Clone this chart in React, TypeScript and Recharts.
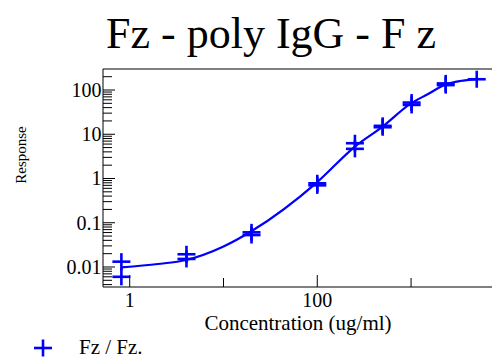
import React from 'react';
import { ComposedChart, Line, Scatter, XAxis, YAxis, ReferenceLine } from 'recharts';

const FONT = '"Liberation Serif", "Times New Roman", Times, serif';
const BLUE = '#0000ff';

const titleText = 'Fz - poly IgG - F z';
const xLabelText = 'Concentration (ug/ml)';
const yLabelText = 'Response';
const legendText = 'Fz / Fz.';

// measured replicate points
const pointX = [0.815, 0.815, 4.03, 4.03, 19.9, 19.9, 100, 100, 252, 252, 498, 498, 1014, 1014, 2342, 2342, 5015];
const pointY = [0.0132, 0.006, 0.0194, 0.0152, 0.0607, 0.0527, 0.78, 0.7, 6.27, 4.68, 15.5, 14.4, 52, 46, 141, 129, 175];

// fitted curve
const curveX = [0.815, 2, 4, 10, 20, 100, 252, 498, 1014, 1500, 2342, 3330, 5015];
const curveY = [0.0098, 0.0117, 0.0144, 0.029, 0.065, 0.83, 5.27, 14.9, 51, 80, 134, 160, 174];

const xTicks = [1, 10, 100, 1000];
const xLabeledTicks = [1, 100];
const yMajorTicks = [0.01, 0.1, 1, 10, 100];
const yDecades = [0.001, 0.01, 0.1, 1, 10, 100];
const yMinorMultipliers = [2, 3, 4, 5, 6, 7, 8, 9];

const X_DOMAIN: [number, number] = [0.519, 7295];
const Y_DOMAIN: [number, number] = [0.00353, 298.4];

const points = pointX.map((x, i) => ({ x, y: pointY[i] }));
const curve = curveX.map((x, i) => ({ x, y: curveY[i] }));

const yMinorTicks: number[] = [];
yDecades.forEach((d) =>
  yMinorMultipliers.forEach((m) => {
    const v = +(m * d).toPrecision(3);
    if (v > Y_DOMAIN[0] && v < Y_DOMAIN[1]) yMinorTicks.push(v);
  })
);
const yTicks = [...yMajorTicks, ...yMinorTicks].sort((a, b) => a - b);

const XTick = (props: any) => {
  const { x, y, payload } = props;
  const v = payload.value;
  const labeled = xLabeledTicks.includes(v);
  return (
    <g>
      <line x1={x} x2={x} y1={y} y2={y - (labeled ? 12 : 9)} stroke="#000" strokeWidth={1} />
      {labeled && (
        <text x={x} y={y + 19.5} textAnchor="middle" fontSize={20} fontFamily={FONT} fill="#000">
          {String(v)}
        </text>
      )}
    </g>
  );
};

const YTick = (props: any) => {
  const { x, y, payload } = props;
  const v = payload.value;
  const major = yMajorTicks.includes(v);
  return (
    <g>
      <line x1={x} x2={x + (major ? 12 : 9)} y1={y} y2={y} stroke="#000" strokeWidth={1} />
      {major && (
        <text x={x - 1.5} y={y + 7} textAnchor="end" fontSize={20} fontFamily={FONT} fill="#000">
          {String(v)}
        </text>
      )}
    </g>
  );
};

const PlusShape = (props: any) => {
  const { cx, cy } = props;
  if (cx == null || cy == null) return <g />;
  return (
    <g>
      <line x1={cx - 9} x2={cx + 9} y1={cy} y2={cy} stroke={BLUE} strokeWidth={2.6} />
      <line x1={cx} x2={cx} y1={cy - 8.5} y2={cy + 8.5} stroke={BLUE} strokeWidth={2.6} />
    </g>
  );
};

export default function App() {
  return (
    <div style={{ position: 'absolute', left: 0, top: 0, width: 492, height: 358, background: '#fff' }}>
      <ComposedChart
        width={492}
        height={358}
        margin={{ top: 69, right: 0, bottom: 0, left: 0 }}
        style={{ position: 'absolute', left: 0, top: 0 }}
      >
        <XAxis
          dataKey="x"
          type="number"
          scale="log"
          domain={X_DOMAIN}
          allowDataOverflow
          ticks={xTicks}
          interval={0}
          tick={<XTick />}
          tickLine={false}
          tickSize={0}
          tickMargin={0}
          height={71}
          axisLine={{ stroke: '#000', strokeWidth: 1 }}
        />
        <YAxis
          dataKey="y"
          type="number"
          scale="log"
          domain={Y_DOMAIN}
          allowDataOverflow
          ticks={yTicks}
          interval={0}
          tick={<YTick />}
          tickLine={false}
          tickSize={0}
          tickMargin={0}
          width={103}
          axisLine={{ stroke: '#000', strokeWidth: 1 }}
        />
        <ReferenceLine y={Y_DOMAIN[1]} stroke="#000" strokeWidth={1} ifOverflow="extendDomain" />
        <Line
          data={curve}
          dataKey="y"
          type="monotone"
          stroke={BLUE}
          strokeWidth={2.2}
          dot={false}
          activeDot={false}
          isAnimationActive={false}
        />
        <Scatter data={points} dataKey="y" shape={<PlusShape />} isAnimationActive={false} />
      </ComposedChart>
      <svg
        width={492}
        height={358}
        style={{ position: 'absolute', left: 0, top: 0, pointerEvents: 'none' }}
      >
        <text x={271} y={48} textAnchor="middle" fontSize={44} fontFamily={FONT} fill="#000">
          {titleText}
        </text>
        <text
          x={0}
          y={0}
          transform="translate(26,155) rotate(-90)"
          textAnchor="middle"
          fontSize={15}
          fontFamily={FONT}
          fill="#000"
        >
          {yLabelText}
        </text>
        <text x={298} y={330} textAnchor="middle" fontSize={21} fontFamily={FONT} fill="#000">
          {xLabelText}
        </text>
        <line x1={34} x2={52} y1={348} y2={348} stroke={BLUE} strokeWidth={2.6} />
        <line x1={43} x2={43} y1={339.5} y2={356.5} stroke={BLUE} strokeWidth={2.6} />
        <text x={79} y={354} fontSize={21} fontFamily={FONT} fill="#000">
          {legendText}
        </text>
      </svg>
    </div>
  );
}
